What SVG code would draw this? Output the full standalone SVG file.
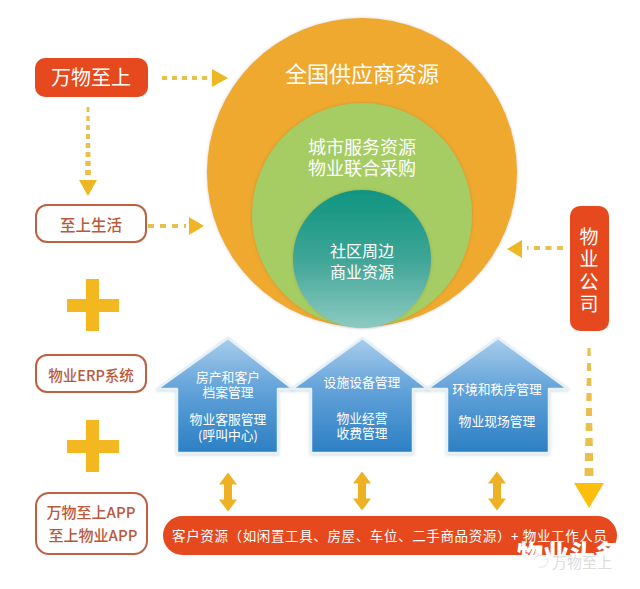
<svg xmlns="http://www.w3.org/2000/svg" width="640" height="589" viewBox="0 0 640 589">
<defs>
<linearGradient id="house" x1="0" y1="0" x2="0" y2="1"><stop offset="0" stop-color="#a9cdeb"/><stop offset="0.45" stop-color="#62a2d9"/><stop offset="1" stop-color="#2b7fc4"/></linearGradient>
<linearGradient id="inner" x1="0" y1="0" x2="0" y2="1"><stop offset="0" stop-color="#0f9580"/><stop offset="0.5" stop-color="#3ea596"/><stop offset="1" stop-color="#8dcac2"/></linearGradient>
<filter id="soft" x="-10%" y="-10%" width="120%" height="120%"><feDropShadow dx="0" dy="1" stdDeviation="1.5" flood-color="#8aa" flood-opacity="0.4"/></filter>
<filter id="soft2" x="-10%" y="-10%" width="120%" height="120%"><feDropShadow dx="0" dy="0" stdDeviation="1.5" flood-color="#555" flood-opacity="0.3"/></filter>
<clipPath id="taperV"><path d="M86.7 105H89.3L91 176H85Z"/></clipPath>
<clipPath id="taperR"><path d="M587.5 346H590.5L593.5 476H584.5Z"/></clipPath>
<g id="dbl"><path d="M0 -19.5 L9 -7.5 H4 V7.5 H9 L0 19.5 L-9 7.5 H-4 V-7.5 H-9 Z" fill="#edb123"/></g>
</defs>
<style>
text{font-family:"Noto Sans CJK SC","Liberation Sans",sans-serif;text-anchor:middle}
.w{fill:#fff}
.r{fill:#b9583a;font-weight:500}
.solid{fill:#e5491d}
.out{fill:#fff;stroke:#bf6141;stroke-width:2}
.dash{fill:none;stroke:#e9c04e;stroke-width:4}
.tip{fill:#ecb722}
.h{fill:url(#house);stroke:#e6f0f8;stroke-width:2.5;stroke-linejoin:round;filter:url(#soft)}
.plus{fill:#f3b71f}
.ht{font-size:12.8px}
</style>
<rect width="640" height="589" fill="#fff"/>
<g id="connectors">
<path class="dash" d="M162 78H208" stroke-dasharray="5 5"/><path class="tip" d="M212 69L228 78L212 87Z"/>
<g clip-path="url(#taperV)"><path class="dash" style="stroke-width:8" d="M88 107V176" stroke-dasharray="5 4"/></g><path class="tip" d="M79 180H97L88 196Z"/>
<path class="dash" d="M148 226H186" stroke-dasharray="6 6"/><path class="tip" d="M189 217L204 226L189 235Z"/>
<path class="dash" d="M563 248H527" stroke-dasharray="6 5.5"/><path class="tip" d="M522 240V258L507 249Z"/>
<g clip-path="url(#taperR)"><path class="dash" style="stroke-width:12" d="M589 348V476" stroke-dasharray="8 7"/></g><path fill="#fdbe0e" d="M574 483H604L589 508Z"/>
<use href="#dbl" x="228" y="492"/>
<use href="#dbl" x="362" y="491"/>
<use href="#dbl" x="497" y="491"/>
</g>
<g id="circle-outer"><ellipse cx="362" cy="172.500" rx="155" ry="154.500" fill="#efa92f" filter="url(#soft2)"/><text class="w" x="362" y="82" font-size="22">全国供应商资源</text></g>
<g id="circle-middle"><ellipse cx="362" cy="215" rx="110" ry="112" fill="#a5cd64" filter="url(#soft2)"/><text class="w" x="362" y="153.500" font-size="18">城市服务资源</text><text class="w" x="362" y="175" font-size="18">物业联合采购</text></g>
<g id="circle-inner"><circle cx="362" cy="259" r="69" fill="url(#inner)" filter="url(#soft2)"/><text class="w" x="362" y="257" font-size="16">社区周边</text><text class="w" x="362" y="278" font-size="16">商业资源</text></g>
<g id="node-wanwu"><rect class="solid" x="35" y="58" width="113" height="39" rx="10"/><text class="w" x="91" y="85" font-size="20">万物至上</text></g>
<g id="node-life"><rect class="out" x="36" y="205" width="110" height="37" rx="11"/><text class="r" x="91" y="231" font-size="15.5">至上生活</text></g>
<g id="node-erp"><rect class="out" x="36" y="355" width="110" height="37" rx="11"/><text class="r" x="91" y="381" font-size="14.500">物业ERP系统</text></g>
<g id="node-app"><rect class="out" x="36" y="493" width="111" height="61" rx="13"/><text class="r" x="91" y="518" font-size="15">万物至上APP</text><text class="r" x="93" y="541" font-size="15">至上物业APP</text></g>
<g id="plus-1"><path class="plus" d="M86 279H99V299H119V312H99V331H86V312H67V299H86Z"/></g>
<g id="plus-2"><path class="plus" d="M86 420H99V440H119V453H99V472H86V453H67V440H86Z"/></g>
<g id="node-company"><rect class="solid" x="570" y="206" width="39" height="125" rx="10"/><text class="w" x="589" y="244" font-size="19">物</text><text class="w" x="589" y="266" font-size="19">业</text><text class="w" x="589" y="289" font-size="19">公</text><text class="w" x="589" y="311" font-size="19">司</text></g>
<g id="house-1"><path class="h" d="M228 338L293 389H278V453H177V389H157Z"/><text class="w ht" x="228" y="381.500">房产和客户</text><text class="w ht" x="228" y="396.500">档案管理</text><text class="w ht" x="228" y="423.500">物业客服管理</text><text class="w ht" x="228" y="439.500">(呼叫中心)</text></g>
<g id="house-2"><path class="h" d="M362.500 338L428 389H413V453H311V389H292Z"/><text class="w ht" x="362" y="386.500">设施设备管理</text><text class="w ht" x="362" y="422.500">物业经营</text><text class="w ht" x="362" y="438">收费管理</text></g>
<g id="house-3"><path class="h" d="M498 338L568 389H549V453H447V389H427Z"/><text class="w ht" x="497" y="394">环境和秩序管理</text><text class="w ht" x="497" y="426">物业现场管理</text></g>
<g id="node-resources"><rect class="solid" x="163" y="516" width="454" height="39" rx="19.500"/><text class="w" x="172" y="541" font-size="13.500" style="text-anchor:start" textLength="435" lengthAdjust="spacing">客户资源（如闲置工具、房屋、车位、二手商品资源）+ 物业工作人员</text></g>
<g id="watermark"><text x="569" y="564" font-size="26" font-weight="900" fill="#fff">物业头条</text><path d="M534 560a7 6 0 1 1 5 7" fill="none" stroke="#e4e4e4" stroke-width="1"/><text x="582" y="568" font-size="15" fill="#dcdcdc">万物至上</text></g>
</svg>
